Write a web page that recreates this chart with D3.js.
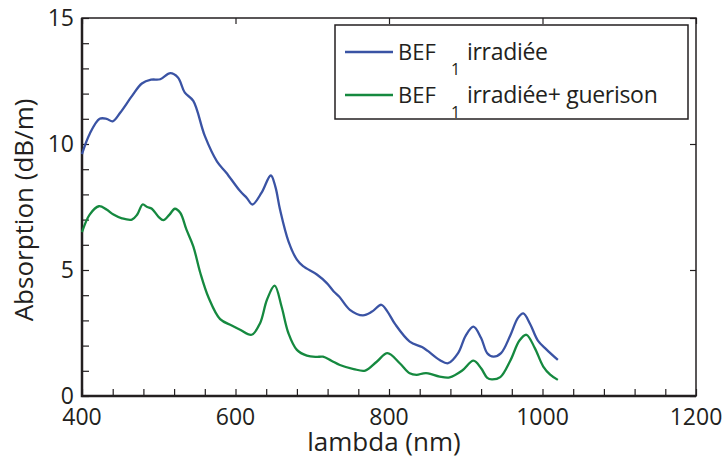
<!DOCTYPE html>
<html>
<head>
<meta charset="utf-8">
<script src="https://cdn.jsdelivr.net/npm/d3@7"></script>
<style>
  body { margin: 0; background: #fff; }
  text { font-family: "Open Sans", "Noto Sans", sans-serif; fill: #231f20; }
</style>
</head>
<body>
<svg></svg>
<script>
const width = 723;
const height = 459;

// irradiated fibre, absorption (dB/m) vs wavelength (nm)
const lambdaIrr = [400, 410, 423, 432, 440, 450, 465, 478, 490, 502, 515, 525, 534, 545, 560, 576, 588, 606, 615, 622, 634, 646, 652, 658, 669, 680, 688, 706, 719, 728, 735, 749, 766, 778, 790, 798, 808, 827, 843, 850, 866, 877, 890, 900, 910, 920, 928, 936, 946, 958, 968, 975, 984, 994, 1005, 1020];
const absIrr = [9.6, 10.4, 11.0, 11.0, 10.9, 11.25, 11.9, 12.4, 12.55, 12.57, 12.81, 12.64, 12.04, 11.71, 10.32, 9.3, 8.86, 8.13, 7.85, 7.6, 8.07, 8.75, 8.3, 7.4, 6.14, 5.41, 5.15, 4.82, 4.48, 4.15, 3.95, 3.42, 3.2, 3.35, 3.62, 3.35, 2.85, 2.16, 1.94, 1.8, 1.43, 1.3, 1.7, 2.4, 2.75, 2.3, 1.7, 1.56, 1.7, 2.4, 3.1, 3.28, 2.85, 2.2, 1.85, 1.43];

// irradiated + healed fibre
const lambdaHeal = [400, 410, 422, 432, 441, 452, 465, 472, 479, 485, 491, 500, 506, 514, 521, 528, 536, 545, 554, 565, 580, 595, 606, 621, 632, 641, 651, 660, 669, 680, 693, 705, 714, 725, 736, 754, 769, 784, 798, 814, 827, 836, 845, 851, 866, 879, 895, 910, 920, 928, 934, 945, 958, 970, 979, 990, 1001, 1010, 1020];
const absHeal = [6.5, 7.2, 7.53, 7.4, 7.2, 7.05, 7.0, 7.2, 7.6, 7.5, 7.43, 7.1, 6.98, 7.2, 7.43, 7.27, 6.61, 5.94, 4.9, 3.9, 3.05, 2.8, 2.63, 2.43, 2.89, 3.82, 4.38, 3.55, 2.49, 1.83, 1.6, 1.55, 1.56, 1.4, 1.23, 1.07, 1.01, 1.36, 1.7, 1.3, 0.9, 0.84, 0.9, 0.9, 0.77, 0.74, 1.0, 1.4, 1.1, 0.72, 0.66, 0.75, 1.4, 2.2, 2.43, 1.9, 1.17, 0.85, 0.64];

const xTickLabels = [400, 600, 800, 1000, 1200];
const yTickLabels = [0, 5, 10, 15];

const margin = { left: 82, right: 27, top: 18, bottom: 63 };
const innerW = width - margin.left - margin.right;
const innerH = height - margin.top - margin.bottom;

const svg = d3.select('svg')
	.attr('width', width)
	.attr('height', height);

const x = d3.scaleLinear().domain([400, 1200]).range([0, innerW]);
const y = d3.scaleLinear().domain([0, 15]).range([innerH, 0]);

const g = svg.append('g')
	.attr('transform', `translate(${margin.left},${margin.top})`);

// minor ticks, pointing inward
const bottomAxis = d3.axisTop(x).tickValues(d3.range(400, 1201, 40)).tickSize(7).tickFormat('');
const leftAxis = d3.axisRight(y).tickValues(d3.range(0, 16, 1)).tickSize(7).tickFormat('');
const topAxis = d3.axisBottom(x).tickValues(xTickLabels).tickSize(6).tickFormat('');
const rightAxis = d3.axisLeft(y).tickValues(yTickLabels).tickSize(6).tickFormat('');

g.append('g').attr('transform', `translate(0,${innerH})`).call(bottomAxis);
g.append('g').call(leftAxis);
g.append('g').call(topAxis);
g.append('g').attr('transform', `translate(${innerW},0)`).call(rightAxis);

g.selectAll('.domain').remove();
g.selectAll('.tick line').attr('stroke', '#231f20').attr('stroke-width', 1.2);

// frame
g.append('rect')
	.attr('width', innerW)
	.attr('height', innerH)
	.attr('fill', 'none')
	.attr('stroke', '#231f20')
	.attr('stroke-width', 1.5);
g.append('path')
	.attr('d', `M0,0V${innerH}H${innerW}`)
	.attr('fill', 'none')
	.attr('stroke', '#231f20')
	.attr('stroke-width', 2.5);

// tick labels
g.selectAll('.xlab').data(xTickLabels).enter().append('text')
	.attr('class', 'xlab')
	.attr('x', d => x(d))
	.attr('y', innerH + 29)
	.attr('text-anchor', 'middle')
	.attr('font-size', 23)
	.text(d => d);

g.selectAll('.ylab').data(yTickLabels).enter().append('text')
	.attr('class', 'ylab')
	.attr('x', -8)
	.attr('y', d => y(d) + 8)
	.attr('text-anchor', 'end')
	.attr('font-size', 23)
	.text(d => d);

// axis titles
svg.append('text')
	.attr('x', margin.left + innerW / 2 - 5)
	.attr('y', 451)
	.attr('text-anchor', 'middle')
	.attr('font-size', 26)
	.text('lambda (nm)');

svg.append('text')
	.attr('transform', `translate(33,${margin.top + innerH / 2 + 3}) rotate(-90)`)
	.attr('text-anchor', 'middle')
	.attr('font-size', 26)
	.text('Absorption (dB/m)');

// curves
const series = [
	{ name: 'irradiée', lambda: lambdaIrr, values: absIrr, color: '#3a53a4' },
	{ name: 'irradiée+ guerison', lambda: lambdaHeal, values: absHeal, color: '#15893f' }
];

const line = d3.line()
	.x(d => x(d[0]))
	.y(d => y(d[1]))
	.curve(d3.curveCatmullRom.alpha(0.5));

g.selectAll('.curve').data(series).enter().append('path')
	.attr('class', 'curve')
	.attr('fill', 'none')
	.attr('stroke', d => d.color)
	.attr('stroke-width', 2.3)
	.attr('d', d => line(d.lambda.map((l, i) => [l, d.values[i]])));

// legend
const legend = svg.append('g').attr('transform', 'translate(335,25)');
legend.append('rect')
	.attr('width', 353)
	.attr('height', 94)
	.attr('fill', '#fff')
	.attr('stroke', '#231f20')
	.attr('stroke-width', 1.5);

const rows = legend.selectAll('.row').data(series).enter().append('g')
	.attr('class', 'row')
	.attr('transform', (d, i) => `translate(0,${27 + i * 43})`);

rows.append('line')
	.attr('x1', 10).attr('x2', 58)
	.attr('stroke', d => d.color)
	.attr('stroke-width', 2.3);
rows.append('text')
	.attr('x', 63).attr('y', 8)
	.attr('font-size', 22)
	.text('BEF');
rows.append('text')
	.attr('x', 116).attr('y', 23)
	.attr('font-size', 16)
	.text('1');
rows.append('text')
	.attr('x', 132).attr('y', 8)
	.attr('font-size', 23)
	.attr('letter-spacing', -0.3)
	.text(d => d.name);
</script>
</body>
</html>
